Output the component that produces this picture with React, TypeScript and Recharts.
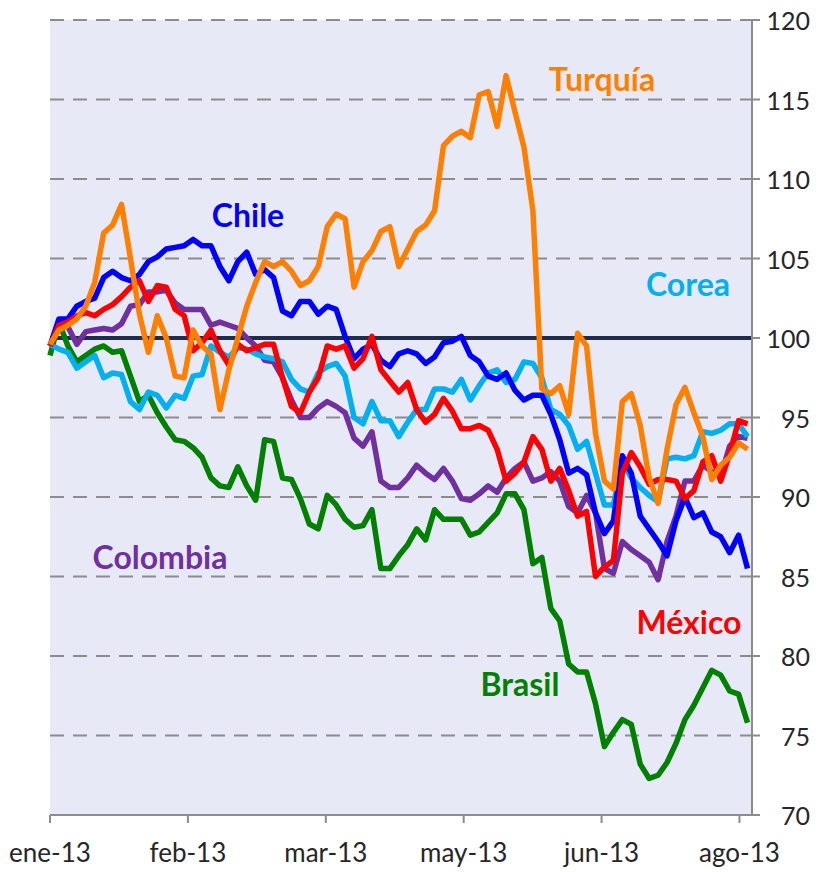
import React from "react";
import {
  CartesianGrid,
  Line,
  LineChart,
  ReferenceLine,
  XAxis,
  YAxis,
} from "recharts";

// índice base 100, observaciones cada ~2 días hábiles
const monthLabels = ["ene-13", "feb-13", "mar-13", "may-13", "jun-13", "ago-13"];
const yTicks = [70, 75, 80, 85, 90, 95, 100, 105, 110, 115, 120];

const turquia = [
  99.6, 100.5, 100.8, 101.2, 102, 103.5, 106.6, 107.1, 108.4, 105, 101.5, 99.1,
  101.4, 100, 97.6, 97.5, 100.5, 99.5, 99, 95.5, 98, 100, 102, 103.5, 104.8,
  104.5, 104.8, 104.2, 103.3, 103.6, 104.5, 107, 107.8, 107.5, 103.2, 104.8,
  105.5, 106.7, 107, 104.5, 105.6, 106.7, 107.1, 108, 112.1, 112.7, 113, 112.6,
  115.3, 115.5, 113.3, 116.5, 114.2, 112, 108, 96.8, 96.5, 97, 95.2, 100.3, 99.5,
  94, 91, 90.5, 96, 96.5, 94.5, 91.2, 89.6, 93, 95.8, 96.9, 95.3, 93.8, 91.1, 92,
  92.5, 93.4, 93,
];

const chile = [
  99.5, 101.2, 101.2, 102, 102.3, 102.5, 103.8, 104.2, 103.8, 103.6, 104, 104.8,
  105.1, 105.6, 105.7, 105.8, 106.2, 105.8, 105.8, 104.5, 103.6, 104.8, 105.4,
  104, 104.3, 103.8, 101.7, 101.4, 102.3, 102.3, 101.5, 102, 101.8, 100.1, 98.7,
  99.3, 99.6, 98.6, 98.2, 99, 99.2, 99, 98.4, 98.8, 99.7, 99.8, 100.1, 98.9, 98.5,
  97.6, 97.4, 97.8, 96.7, 96.1, 96.4, 96.4, 95.2, 93.6, 91.5, 91.8, 91.4, 89,
  87.7, 88.5, 92.6, 91.5, 88.8, 88, 87.2, 86.3, 88.5, 90, 88.7, 89, 87.8, 87.5,
  86.5, 87.6, 85.5,
];

const corea = [
  99.6, 99.3, 99.1, 98.1, 98.5, 98.9, 97.5, 97.8, 97.7, 96, 95.5, 96.6, 96.4,
  95.6, 96.4, 96.2, 97.6, 97.7, 99.5, 99.1, 98.8, 99.4, 99.3, 99, 98.8, 98.7,
  98.5, 97.4, 96.8, 96.6, 97.8, 98.2, 98.4, 97.6, 95, 94.6, 96, 94.8, 94.8, 93.8,
  94.7, 95.5, 95.5, 96.8, 96.8, 96.6, 97.4, 96.1, 97, 97.8, 98, 97.2, 97.4, 98.5,
  98.4, 97.5, 95.5, 95.2, 94.5, 93, 93.5, 91.5, 89.5, 89.5, 92.2, 91.2, 90.6,
  90.1, 89.7, 92.4, 92.5, 92.4, 92.6, 94.1, 94, 94.2, 94.6, 94.6, 93.8,
];

const mexico = [
  99.5, 100.8, 101, 101.4, 101.6, 101.4, 101.8, 102.1, 102.6, 103.2, 103.6,
  102.3, 103.3, 103.2, 101.8, 101.4, 99.2, 99.7, 100.5, 99.2, 98.3, 99.6, 99.2,
  99.4, 99.6, 99.6, 97.5, 95.7, 95.3, 96.6, 97.5, 99.5, 99.3, 99.5, 98.1, 98.7,
  100.1, 98, 97.3, 96.6, 97.2, 95.5, 94.7, 95.2, 96.2, 95.4, 94.3, 94.3, 94.5,
  94.2, 93, 91, 91.5, 92.2, 93.8, 93, 91, 91.8, 90.4, 88.8, 89.1, 85, 85.6, 86,
  91.5, 92.8, 91.9, 90.8, 91.1, 91.1, 91, 89.9, 90.4, 92.2, 92.6, 91, 92.7, 94.8,
  94.6,
];

const colombia = [
  99.5, 100.8, 100.7, 99.6, 100.4, 100.5, 100.6, 100.5, 100.9, 102, 102.1, 102.9,
  102.9, 103, 102.2, 101.8, 101.8, 101.8, 100.8, 101, 100.8, 100.6, 100, 99.5,
  98.6, 98.5, 97.5, 96.1, 95, 95, 95.6, 96, 95.7, 95.3, 93.7, 93.2, 94.1, 91,
  90.6, 90.6, 91.2, 92, 91.5, 91.1, 91.8, 91, 89.9, 89.8, 90.2, 90.7, 90.3, 91.2,
  91.8, 92.2, 91, 91.2, 91.6, 91, 89.4, 89, 90.1, 89, 85.5, 85.2, 87.2, 86.7,
  86.3, 85.9, 84.8, 87.2, 88.8, 91, 91, 92, 91.6, 91.3, 93.2, 93.8, 93.7,
];

const brasil = [
  98.9, 101, 99.5, 98.5, 98.9, 99.3, 99.5, 99.1, 99.2, 97.6, 96, 96.4, 95.3, 94.4,
  93.6, 93.5, 93.1, 92.5, 91.2, 90.7, 90.6, 91.9, 90.7, 89.8, 93.6, 93.5, 91.2,
  91.1, 89.9, 88.3, 88, 90.1, 89.5, 88.6, 88.1, 88.2, 89.2, 85.5, 85.5, 86.3, 87,
  88, 87.3, 89.2, 88.6, 88.6, 88.6, 87.6, 87.8, 88.4, 89, 90.2, 90.2, 89.2, 85.8,
  86.2, 83, 82.2, 79.5, 79, 79, 77, 74.3, 75.2, 76, 75.7, 73.2, 72.3, 72.5, 73.3,
  74.5, 76, 76.9, 78, 79.1, 78.8, 77.8, 77.6, 75.8,
];

const data = turquia.map((_, i) => ({
  x: i,
  turquia: turquia[i],
  chile: chile[i],
  corea: corea[i],
  mexico: mexico[i],
  colombia: colombia[i],
  brasil: brasil[i],
}));

// una etiqueta de mes cada 31 días hábiles (~15,4 observaciones)
const monthTicks = monthLabels.map((_, i) => i * 15.42);

const series = [
  { key: "brasil", color: "#008000" },
  { key: "colombia", color: "#7030A0" },
  { key: "corea", color: "#00B0F0" },
  { key: "chile", color: "#0000FF" },
  { key: "mexico", color: "#FF0000" },
  { key: "turquia", color: "#FF7F00" },
];

const labels = [
  { text: "Turquía", color: "#FF7F00", left: 602, top: 78 },
  { text: "Chile", color: "#0000FF", left: 248, top: 214 },
  { text: "Corea", color: "#00B0F0", left: 688, top: 283 },
  { text: "Colombia", color: "#7030A0", left: 160, top: 556 },
  { text: "México", color: "#FF0000", left: 689, top: 621 },
  { text: "Brasil", color: "#008000", left: 520, top: 683 },
];

const font = "Lato, 'Open Sans', sans-serif";

const RightTick = (props: any) => {
  const { x, y, payload } = props;
  return (
    <text
      x={x + 42}
      y={y}
      textAnchor="end"
      dominantBaseline="central"
      fill="#262626"
      fontSize={25}
      fontFamily={font}
    >
      {payload.value}
    </text>
  );
};

const App = () => {
  return (
    <div style={{ position: "absolute", left: 0, top: 0, width: 834, height: 872, background: "#fff" }}>
      <LineChart
        width={834}
        height={872}
        data={data}
        margin={{ top: 20, right: 0, bottom: 0, left: 50 }}
      >
        <CartesianGrid
          vertical={false}
          fill="#E7EAF6"
          stroke="#8C8C8C"
          strokeWidth={2}
          strokeDasharray="14 9"
        />
        <XAxis
          dataKey="x"
          type="number"
          domain={[0, 78.5]}
          ticks={monthTicks}
          tickFormatter={(v: number) => monthLabels[Math.round(v / 15.42)]}
          height={57}
          stroke="#8C8C8C"
          strokeWidth={2}
          tickSize={8}
          tickMargin={21}
          tick={{ fill: "#262626", fontSize: 26, fontFamily: font }}
          interval={0}
        />
        <YAxis
          orientation="right"
          domain={[70, 120]}
          ticks={yTicks}
          width={82}
          stroke="#8C8C8C"
          strokeWidth={2}
          tickSize={8}
          tickMargin={8}
          tick={<RightTick />}
          interval={0}
        />
        <ReferenceLine y={100} stroke="#1F2D4A" strokeWidth={4} segment={[{ x: 0, y: 100 }, { x: 78, y: 100 }]} />
        {series.map((s) => (
          <Line
            key={s.key}
            dataKey={s.key}
            stroke={s.color}
            strokeWidth={5.5}
            dot={false}
            strokeLinejoin="round"
            isAnimationActive={false}
          />
        ))}
      </LineChart>
      {labels.map((l) => (
        <div
          key={l.text}
          style={{
            position: "absolute",
            left: l.left,
            top: l.top,
            transform: "translate(-50%, -50%)",
            color: l.color,
            fontFamily: font,
            fontWeight: 700,
            fontSize: 32,
            whiteSpace: "nowrap",
          }}
        >
          {l.text}
        </div>
      ))}
    </div>
  );
};

export default App;
